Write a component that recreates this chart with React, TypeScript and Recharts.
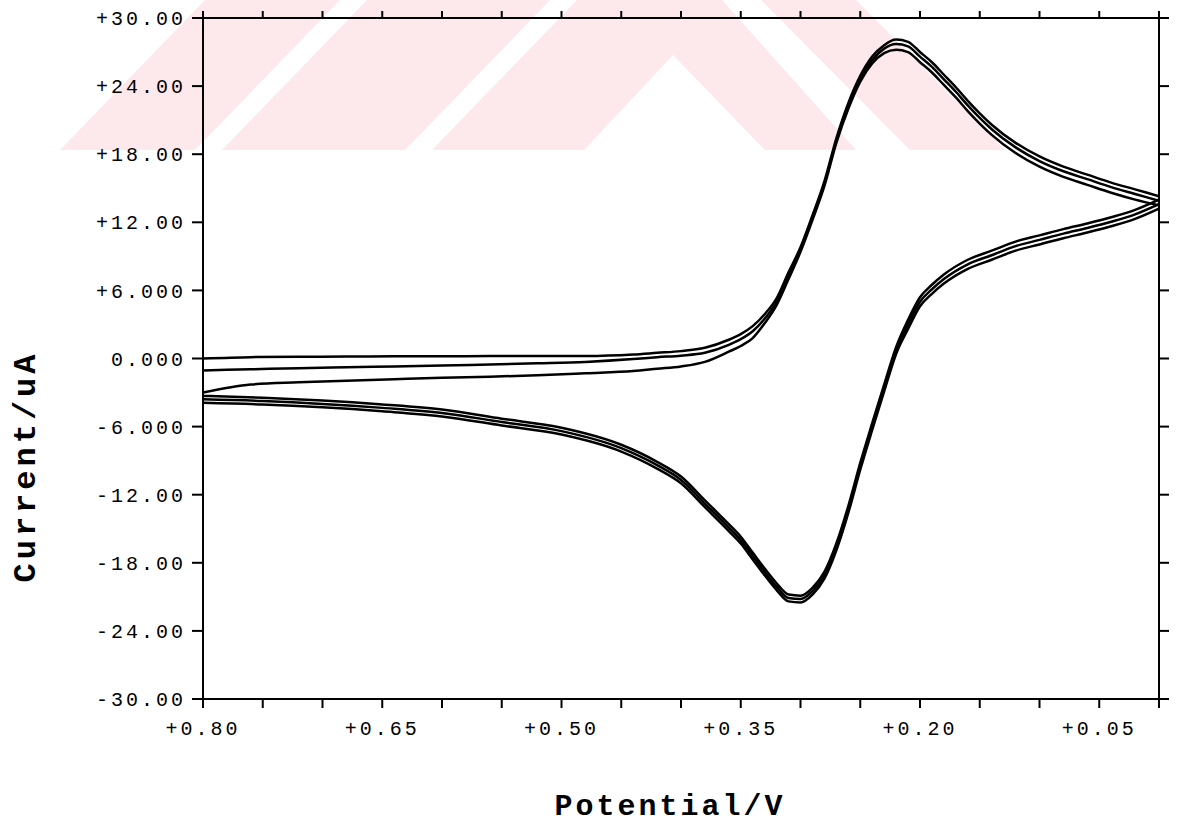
import React from 'react';
import { LineChart, Line, XAxis, YAxis } from 'recharts';

// forward scan (0.80 V -> 0.00 V)
const fwdV = [
  0.8, 0.76, 0.72, 0.68, 0.64, 0.6, 0.56, 0.52, 0.48, 0.44,
  0.42, 0.4, 0.38, 0.36, 0.35, 0.34, 0.33, 0.32, 0.31, 0.3,
  0.29, 0.28, 0.27, 0.26, 0.25, 0.24, 0.23, 0.22, 0.21, 0.2,
  0.19, 0.18, 0.17, 0.16, 0.15, 0.14, 0.12, 0.1, 0.08, 0.06,
  0.04, 0.02, 0.0
];
const fwdCycle1 = [
  0.0, 0.12, 0.15, 0.17, 0.19, 0.2, 0.21, 0.22, 0.22, 0.35,
  0.5, 0.65, 0.95, 1.65, 2.15, 2.85, 3.9, 5.3, 7.6, 9.8,
  12.6, 15.6, 19.4, 22.5, 24.9, 26.6, 27.6, 28.1, 27.9, 27.0,
  26.1, 25.0, 23.9, 22.7, 21.6, 20.6, 19.0, 17.8, 16.9, 16.2,
  15.5, 14.9, 14.3
];
const fwdCycle2 = [
  -1.05, -0.95, -0.85, -0.78, -0.7, -0.62, -0.52, -0.42, -0.3, -0.05,
  0.12, 0.25, 0.5, 1.2, 1.7, 2.4, 3.5, 5.0, 7.3, 9.6,
  12.4, 15.4, 19.2, 22.3, 24.7, 26.3, 27.3, 27.7, 27.5, 26.6,
  25.7, 24.6, 23.5, 22.3, 21.2, 20.2, 18.6, 17.4, 16.5, 15.8,
  15.1, 14.5, 13.9
];
const fwdCycle3 = [
  -3.0, -2.3, -2.1, -1.95, -1.82, -1.7, -1.6, -1.48, -1.3, -1.1,
  -0.9, -0.7, -0.3, 0.6, 1.1, 1.8, 3.1, 4.7, 7.0, 9.4,
  12.2, 15.2, 19.0, 22.0, 24.4, 26.0, 26.9, 27.2, 27.0, 26.1,
  25.2, 24.1, 23.0, 21.8, 20.7, 19.7, 18.1, 16.9, 16.0, 15.3,
  14.6, 14.0, 13.5
];

// reverse scan (0.00 V -> 0.80 V)
const revV = [
  0.0, 0.02, 0.04, 0.06, 0.08, 0.1, 0.12, 0.14, 0.16, 0.18,
  0.19, 0.2, 0.21, 0.22, 0.23, 0.24, 0.25, 0.26, 0.27, 0.28,
  0.29, 0.3, 0.31, 0.32, 0.33, 0.34, 0.35, 0.36, 0.38, 0.4,
  0.42, 0.45, 0.5, 0.55, 0.6, 0.65, 0.7, 0.75, 0.8
];
const revCycle1 = [
  14.0, 13.1, 12.45, 11.9, 11.4, 10.85, 10.3, 9.5, 8.7, 7.4,
  6.5, 5.4, 3.4, 1.0, -2.3, -5.7, -9.2, -13.0, -16.3, -18.8,
  -20.2, -20.9, -20.8, -19.8, -18.5, -17.1, -15.7, -14.6, -12.5, -10.4,
  -9.1, -7.6, -6.1, -5.3, -4.5, -4.05, -3.7, -3.45, -3.3
];
const revCycle2 = [
  13.6, 12.7, 12.05, 11.5, 11.0, 10.45, 9.9, 9.1, 8.3, 7.0,
  6.1, 5.0, 3.0, 0.7, -2.6, -6.0, -9.5, -13.3, -16.6, -19.1,
  -20.5, -21.2, -21.1, -20.1, -18.8, -17.4, -16.0, -14.9, -12.8, -10.7,
  -9.4, -7.9, -6.4, -5.6, -4.8, -4.35, -4.0, -3.75, -3.6
];
const revCycle3 = [
  13.2, 12.3, 11.65, 11.1, 10.6, 10.05, 9.5, 8.7, 7.9, 6.6,
  5.7, 4.6, 2.6, 0.4, -2.9, -6.3, -9.8, -13.6, -16.9, -19.4,
  -20.8, -21.5, -21.4, -20.4, -19.1, -17.7, -16.3, -15.2, -13.1, -11.0,
  -9.7, -8.2, -6.7, -5.9, -5.1, -4.65, -4.3, -4.05, -3.9
];

const xTicks = [0.8, 0.75, 0.7, 0.65, 0.6, 0.55, 0.5, 0.45, 0.4, 0.35, 0.3, 0.25, 0.2, 0.15, 0.1, 0.05, 0.0];
const xTickLabels: Record<string, string> = {
  '0.80': '+0.80', '0.65': '+0.65', '0.50': '+0.50', '0.35': '+0.35', '0.20': '+0.20', '0.05': '+0.05'
};
const yTicks = [-30, -24, -18, -12, -6, 0, 6, 12, 18, 24, 30];
const yTickLabels = ['-30.00', '-24.00', '-18.00', '-12.00', '-6.000', '0.000', '+6.000', '+12.00', '+18.00', '+24.00', '+30.00'];

const toPoints = (vs: number[], is: number[]) => vs.map((v, k) => ({ v, i: is[k] }));

// each sweep is its own series so that x stays monotonic along a line
const sweeps = [
  toPoints(fwdV, fwdCycle3),
  toPoints(revV, revCycle3),
  toPoints(fwdV, fwdCycle2),
  toPoints(revV, revCycle2),
  toPoints(fwdV, fwdCycle1),
  toPoints(revV, revCycle1)
];

const MONO = '"Liberation Mono", "DejaVu Sans Mono", monospace';
const tickStyle = { fontFamily: MONO, fontSize: 20, fill: '#000', letterSpacing: 3 };

// faint pink watermark behind the plot
const watermark = [
  '60,150 195,150 340,0 205,0',
  '222,150 405,150 550,0 367,0',
  '432,150 584,150 673,55 765,150 856,150 722,0 577,0',
  '910,150 1005,150 856,0 761,0'
];

function XTitle(props: any) {
  const { viewBox } = props;
  const cx = viewBox.x + viewBox.width / 2 - 11;
  return (
    <text x={cx} y={815} textAnchor="middle" fontFamily={MONO} fontWeight="bold" fontSize={30} letterSpacing={3} fill="#000">
      Potential/V
    </text>
  );
}

function YTitle(props: any) {
  const { viewBox } = props;
  const cx = 26;
  const cy = viewBox.y + viewBox.height / 2 + 108;
  return (
    <text x={cx} y={cy} transform={`rotate(-90 ${cx} ${cy})`} textAnchor="middle" dominantBaseline="central"
      fontFamily={MONO} fontWeight="bold" fontSize={32} letterSpacing={4} fill="#000">
      Current/uA
    </text>
  );
}

export default function App() {
  return (
    <div style={{ position: 'absolute', left: 0, top: 0, width: 1181, height: 823, background: '#fff' }}>
      <svg width={1181} height={823} style={{ position: 'absolute', left: 0, top: 0 }}>
        {watermark.map((p, k) => (
          <polygon key={k} points={p} fill="#fde8ec" />
        ))}
      </svg>
      <div style={{ position: 'absolute', left: 0, top: 0 }}>
        <LineChart width={1181} height={823} margin={{ top: 0, right: 0, bottom: 0, left: 0 }}>
          <XAxis
            xAxisId="b"
            type="number"
            dataKey="v"
            domain={[0, 0.8]}
            reversed
            allowDataOverflow
            ticks={xTicks}
            interval={0}
            height={124}
            tickSize={9}
            tickMargin={13}
            tickFormatter={(v: number) => xTickLabels[v.toFixed(2)] || ''}
            tick={tickStyle}
            axisLine={{ stroke: '#000', strokeWidth: 2 }}
            tickLine={{ stroke: '#000', strokeWidth: 2 }}
            label={{ content: XTitle }}
          />
          <XAxis
            xAxisId="t"
            orientation="top"
            type="number"
            dataKey="v"
            domain={[0, 0.8]}
            reversed
            allowDataOverflow
            ticks={xTicks}
            interval={0}
            height={18}
            tickSize={7}
            tickFormatter={() => ''}
            axisLine={{ stroke: '#000', strokeWidth: 2 }}
            tickLine={{ stroke: '#000', strokeWidth: 2 }}
          />
          <YAxis
            yAxisId="l"
            type="number"
            domain={[-30, 30]}
            allowDataOverflow
            ticks={yTicks}
            interval={0}
            width={203}
            tickSize={11}
            tickMargin={6}
            tickFormatter={(v: number) => yTickLabels[yTicks.indexOf(v)] || ''}
            tick={tickStyle}
            axisLine={{ stroke: '#000', strokeWidth: 2 }}
            tickLine={{ stroke: '#000', strokeWidth: 2 }}
            label={{ content: YTitle }}
          />
          <YAxis
            yAxisId="r"
            orientation="right"
            type="number"
            domain={[-30, 30]}
            allowDataOverflow
            ticks={yTicks}
            interval={0}
            width={22}
            tickSize={10}
            tickFormatter={() => ''}
            axisLine={{ stroke: '#000', strokeWidth: 2 }}
            tickLine={{ stroke: '#000', strokeWidth: 2 }}
          />
          {sweeps.map((s, k) => (
            <Line
              key={k}
              xAxisId="b"
              yAxisId="l"
              data={s}
              dataKey="i"
              type="monotone"
              stroke="#000"
              strokeWidth={2.5}
              dot={false}
              isAnimationActive={false}
            />
          ))}
        </LineChart>
      </div>
    </div>
  );
}
